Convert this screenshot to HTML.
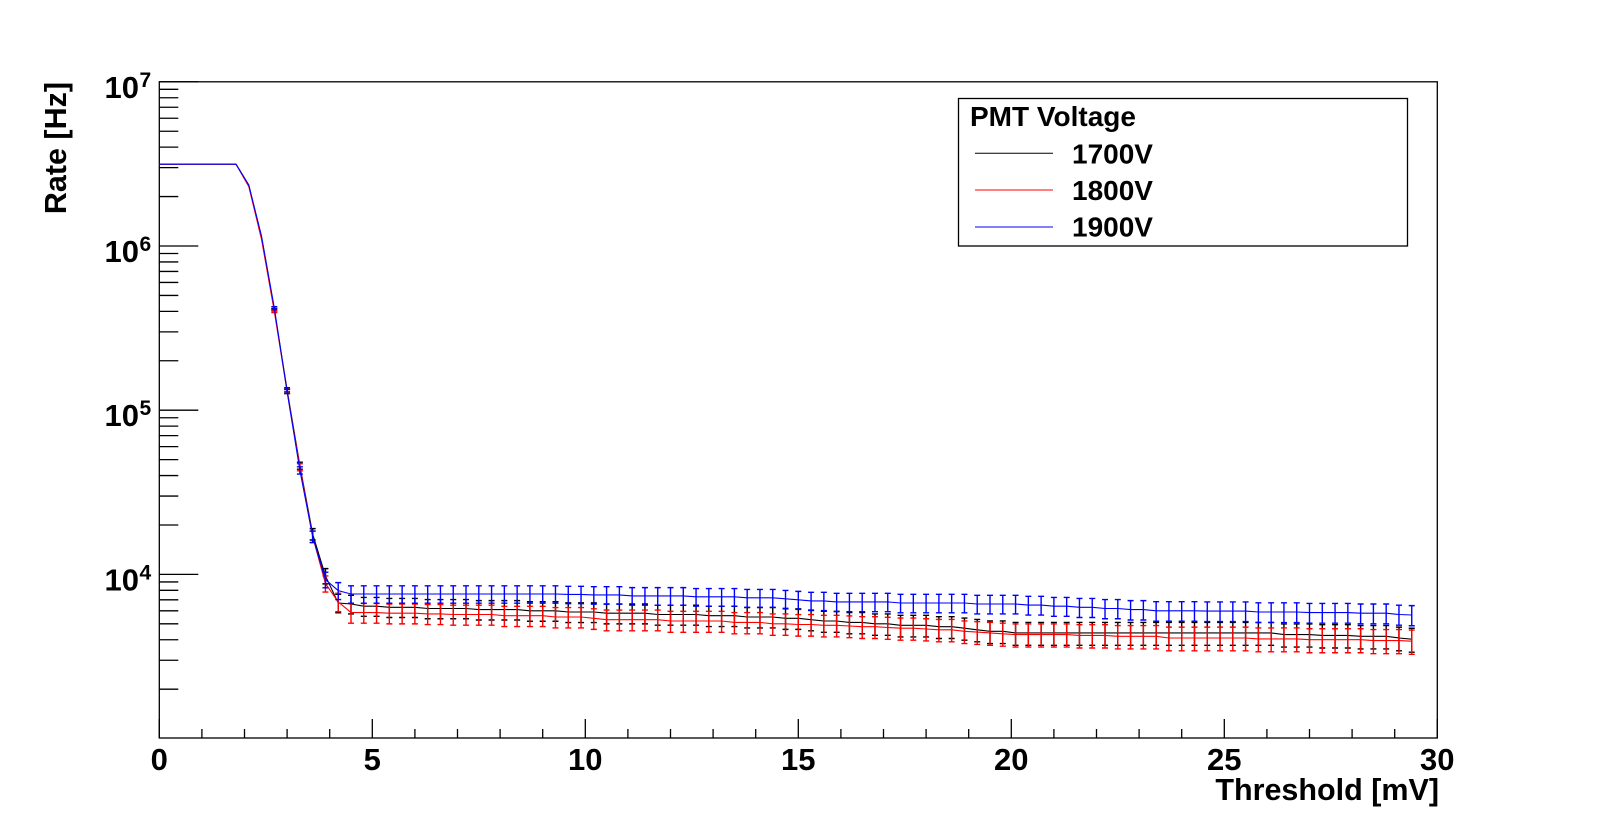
<!DOCTYPE html>
<html><head><meta charset="utf-8"><style>
html,body{margin:0;padding:0;background:#fff;}
svg{display:block;font-family:"Liberation Sans",Arial,sans-serif;font-weight:bold;}
</style></head><body>
<svg id="chart" width="1598" height="820" viewBox="0 0 1598 820" xmlns="http://www.w3.org/2000/svg">
<rect x="0" y="0" width="1598" height="820" fill="#fff"/>
<g id="axes"></g>
<g id="series"></g>
<text x="1439" y="800" text-anchor="end" font-size="30.5">Threshold [mV]</text>
<text transform="translate(66,82) rotate(-90)" text-anchor="end" font-size="30.5">Rate [Hz]</text>
<g>
<rect x="958.5" y="98.5" width="449" height="147.5" fill="#fff" stroke="#000" stroke-width="1.3"/>
<text x="970" y="126" font-size="28">PMT Voltage</text>
<line x1="975" y1="153.3" x2="1053" y2="153.3" stroke="#000" stroke-width="1"/>
<text x="1072" y="163.5" font-size="28">1700V</text>
<line x1="975" y1="190" x2="1053" y2="190" stroke="#f00" stroke-width="1"/>
<text x="1072" y="200" font-size="28">1800V</text>
<line x1="975" y1="227" x2="1053" y2="227" stroke="#00f" stroke-width="1"/>
<text x="1072" y="236.5" font-size="28">1900V</text>
</g>
</svg>
<script>
// thresholds in mV (step 0.3)
const thresholds = [0,0.3,0.6,0.9,1.2,1.5,1.8,2.1,2.4,2.7,3.0,3.3,3.6,3.9,4.2,4.5,4.8,5.1,5.4,5.7,6.0,6.3,6.6,6.9,7.2,7.5,7.8,8.1,8.4,8.7,9.0,9.3,9.6,9.9,10.2,10.5,10.8,11.1,11.4,11.7,12.0,12.3,12.6,12.9,13.2,13.5,13.8,14.1,14.4,14.7,15.0,15.3,15.6,15.9,16.2,16.5,16.8,17.1,17.4,17.7,18.0,18.3,18.6,18.9,19.2,19.5,19.8,20.1,20.4,20.7,21.0,21.3,21.6,21.9,22.2,22.5,22.8,23.1,23.4,23.7,24.0,24.3,24.6,24.9,25.2,25.5,25.8,26.1,26.4,26.7,27.0,27.3,27.6,27.9,28.2,28.5,28.8,29.1,29.4];
const rate1700 = [3.15e6,3.15e6,3.15e6,3.15e6,3.15e6,3.15e6,3.15e6,2.35e6,1.12e6,4.1e5,1.33e5,4.6e4,1.76e4,9.8e3,6.7e3,6.6e3,
6.4e3,6.4e3,6.3e3,6.3e3,6.3e3,6.2e3,6.2e3,6.2e3,6.2e3,6.1e3,6.1e3,6.1e3,6.1e3,6.0e3,6.0e3,6.0e3,5.9e3,5.9e3,
5.9e3,5.8e3,5.8e3,5.8e3,5.8e3,5.7e3,5.7e3,5.7e3,5.7e3,5.6e3,5.6e3,5.6e3,5.5e3,5.5e3,5.5e3,5.4e3,5.4e3,
5.3e3,5.2e3,5.2e3,5.1e3,5.1e3,5.0e3,5.0e3,4.9e3,4.9e3,4.9e3,4.8e3,4.8e3,4.7e3,4.6e3,4.5e3,4.5e3,4.4e3,
4.4e3,4.4e3,4.4e3,4.4e3,4.4e3,4.4e3,4.4e3,4.4e3,4.4e3,4.4e3,4.4e3,4.4e3,4.4e3,4.4e3,
4.4e3,4.4e3,4.4e3,4.4e3,4.4e3,4.4e3,4.3e3,4.3e3,4.3e3,4.25e3,4.25e3,4.25e3,4.2e3,4.2e3,4.2e3,4.1e3,4.03e3];
const rate1800 = [3.15e6,3.15e6,3.15e6,3.15e6,3.15e6,3.15e6,3.15e6,2.3e6,1.1e6,4.0e5,1.3e5,4.5e4,1.7e4,8.8e3,6.8e3,5.85e3,
5.85e3,5.85e3,5.8e3,5.8e3,5.8e3,5.75e3,5.75e3,5.7e3,5.7e3,5.7e3,5.7e3,5.6e3,5.6e3,5.6e3,5.6e3,5.5e3,5.5e3,5.5e3,
5.4e3,5.3e3,5.3e3,5.3e3,5.3e3,5.3e3,5.2e3,5.2e3,5.2e3,5.2e3,5.2e3,5.1e3,5.1e3,5.1e3,5.0e3,5.0e3,4.95e3,
4.95e3,4.9e3,4.9e3,4.85e3,4.8e3,4.8e3,4.75e3,4.7e3,4.7e3,4.65e3,4.6e3,4.6e3,4.5e3,4.45e3,4.4e3,4.35e3,4.3e3,
4.3e3,4.3e3,4.3e3,4.3e3,4.25e3,4.25e3,4.25e3,4.2e3,4.2e3,4.2e3,4.2e3,4.1e3,4.1e3,4.1e3,
4.1e3,4.1e3,4.1e3,4.1e3,4.05e3,4.05e3,4.05e3,4.05e3,4.0e3,4.0e3,4.0e3,4.0e3,4.0e3,3.95e3,3.95e3,3.95e3,3.92e3];
const rate1900 = [3.15e6,3.15e6,3.15e6,3.15e6,3.15e6,3.15e6,3.15e6,2.35e6,1.15e6,4.2e5,1.3e5,4.3e4,1.7e4,9.3e3,7.97e3,7.6e3,
7.6e3,7.6e3,7.6e3,7.6e3,7.6e3,7.6e3,7.6e3,7.6e3,7.6e3,7.6e3,7.6e3,7.6e3,7.6e3,7.6e3,7.6e3,7.6e3,7.55e3,7.55e3,
7.5e3,7.5e3,7.5e3,7.4e3,7.4e3,7.4e3,7.4e3,7.4e3,7.3e3,7.3e3,7.3e3,7.3e3,7.2e3,7.2e3,7.2e3,7.1e3,7.0e3,
6.9e3,6.9e3,6.8e3,6.8e3,6.8e3,6.8e3,6.8e3,6.7e3,6.7e3,6.7e3,6.7e3,6.7e3,6.7e3,6.6e3,6.6e3,6.6e3,6.6e3,
6.5e3,6.5e3,6.4e3,6.4e3,6.3e3,6.3e3,6.2e3,6.2e3,6.1e3,6.1e3,6.0e3,6.0e3,6.0e3,6.0e3,
5.98e3,5.98e3,5.98e3,5.98e3,5.9e3,5.9e3,5.9e3,5.9e3,5.85e3,5.85e3,5.85e3,5.85e3,5.8e3,5.8e3,5.8e3,5.7e3,5.66e3];
const xTickLabels = ["0","5","10","15","20","25","30"];
const yDecadeExponents = ["3","4","5","6","7"];
const exposureSeconds = 0.009; // counting time used for Poisson errors

const NS = "http://www.w3.org/2000/svg";
const X0 = 159.3, XPX = 42.6, Y7 = 81.8, DEC = 164.2, YB = 738;
function xs(v){ return X0 + v*XPX; }
function ys(v){ return Y7 + (7 - Math.log10(v))*DEC; }
function mk(tag, attrs, parent){
  const e = document.createElementNS(NS, tag);
  for (const k in attrs) e.setAttribute(k, attrs[k]);
  parent.appendChild(e); return e;
}
const axes = document.getElementById('axes');
const frame = mk('rect',{x:X0,y:Y7,width:xs(30)-X0,height:YB-Y7,fill:'none',stroke:'#000','stroke-width':1.3},axes);


for (let i=0;i<=30;i++){
  const major = i%5===0;
  const t = mk('line',{x1:xs(i),x2:xs(i),y1:YB,y2:YB-(major?19:9),stroke:'#000','stroke-width':1.3},axes);
  
  
}
xTickLabels.forEach((lab,i)=>{
  const t = mk('text',{x:xs(i*5),y:770,'text-anchor':'middle','font-size':31},axes);
  t.textContent = lab;
  
  
});
for (let d=3; d<7; d++){
  for (let m=2;m<=9;m++){
    const y = ys(m*Math.pow(10,d));
    const t = mk('line',{x1:X0,x2:X0+19,y1:y,y2:y,stroke:'#000','stroke-width':1.3},axes);
    
    
  }
}
yDecadeExponents.forEach(ex=>{
  const y = ys(Math.pow(10,+ex));
  if (+ex>3){
    const t = mk('line',{x1:X0,x2:X0+39,y1:y,y2:y,stroke:'#000','stroke-width':1.3},axes);
    
    
    const l = mk('text',{x:139,y:y+16,'text-anchor':'end','font-size':31},axes);
    l.textContent = '10';
    
    
    const e = mk('text',{x:139.5,y:y+5,'font-size':21},axes);
    e.textContent = ex;
    
    
  }
});
const seriesG = document.getElementById('series');
const seriesList = [[rate1700,'#000','series-1700v'],[rate1800,'#f00','series-1800v'],[rate1900,'#00f','series-1900v']];
seriesList.forEach(([vals,col,name])=>{
  const g = mk('g',{},seriesG);
  
  
  const pts = vals.map((v,i)=>xs(thresholds[i]).toFixed(1)+','+ys(v).toFixed(1)).join(' ');
  const pl = mk('polyline',{points:pts,fill:'none',stroke:col,'stroke-width':1.1},g);
  
  
  vals.forEach((v,i)=>{
    const err = Math.sqrt(v/exposureSeconds);
    const x = xs(thresholds[i]);
    const y1 = ys(v+err), y2 = ys(Math.max(v-err, v*0.05));
    if (y2-y1 < 2) return;
    const p = mk('path',{d:`M${x-3},${y1}H${x+3}M${x},${y1}V${y2}M${x-3},${y2}H${x+3}`,stroke:col,'stroke-width':1.4,fill:'none'},g);
    
    
  });
});
</script>
</body></html>
